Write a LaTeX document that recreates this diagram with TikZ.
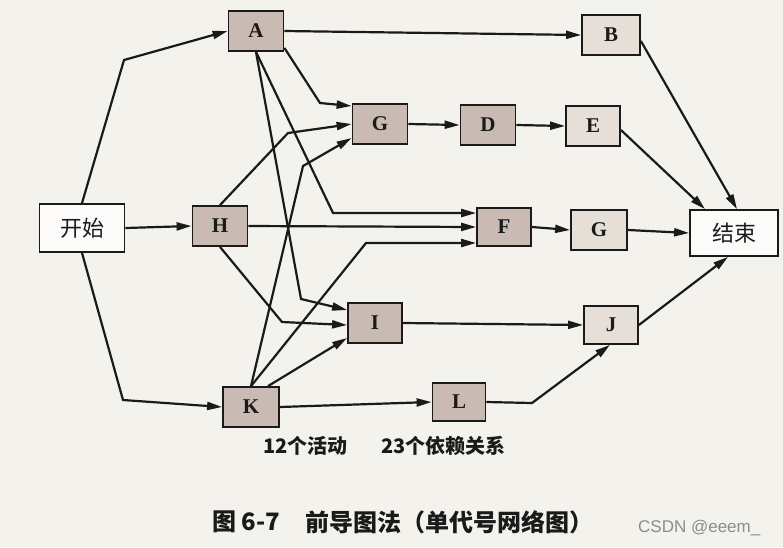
\documentclass[tikz,border=0pt]{standalone}
\usepackage{fontspec}
\setmainfont{Liberation Serif}
\newfontfamily\cjk{Noto Sans CJK SC}
\newfontfamily\wmfont{Liberation Sans}
\usetikzlibrary{arrows.meta}
\definecolor{bg}{HTML}{F4F2EC}
\definecolor{darkbox}{HTML}{C9BBB3}
\definecolor{lightbox}{HTML}{E6DFD8}
\definecolor{ink}{HTML}{1A1A1A}
\begin{document}
\begin{tikzpicture}[x=1pt,y=-1pt,
  box/.style={draw=ink, line width=1.8pt, fill=darkbox, minimum width=55pt,
    minimum height=40pt, inner sep=0pt, text=ink, font=\bfseries\fontsize{21}{21}\selectfont},
  lbox/.style={box, fill=lightbox},
  tbox/.style={draw=ink, line width=1.8pt, fill=white!70!bg, inner sep=0pt,
    text=ink, font=\cjk\fontsize{22}{22}\selectfont},
  arr/.style={draw=ink, line width=2.2pt, -{Triangle[length=15pt,width=8pt]}},
  note/.style={text=ink, inner sep=0pt, font=\cjk\bfseries\fontsize{20}{20}\selectfont},
  captext/.style={text=ink, inner sep=0pt, font=\cjk\bfseries\fontsize{24}{24}\selectfont}]
\useasboundingbox (0,0) rectangle (783,547);
\fill[bg] (0,0) rectangle (783,547);

% nodes
\node[tbox, minimum width=85pt, minimum height=48pt] (S) at (82,228) {开始};
\node[box] (A) at (256,31) {A};
\node[lbox, minimum width=58pt] (B) at (611,35) {B};
\node[box] (G1) at (380,124) {G};
\node[box] (D) at (488,125) {D};
\node[lbox, minimum width=54pt] (E) at (593,126) {E};
\node[box] (H) at (220,226) {H};
\node[box, minimum width=54pt, minimum height=38pt] (F) at (504,227) {F};
\node[lbox, minimum width=56pt] (G2) at (599,230) {G};
\node[tbox, minimum width=88pt, minimum height=46pt] (End) at (734,233) {结束};
\node[box, minimum width=54pt] (I) at (375,323) {I};
\node[lbox, minimum width=54pt, minimum height=38pt] (J) at (611,325) {J};
\node[box, minimum width=56pt] (K) at (251,407) {K};
\node[box, minimum width=53pt, minimum height=38pt] (L) at (459,402) {L};

% connectors from start
\draw[arr] (S.north) -- (124,60) -- (A.west);
\draw[arr] (S.east) -- (H.west);
\draw[arr] (S.south) -- (123,400) -- (K.west);

% from A
\draw[arr] (A.east) -- (B.west);
\draw[arr] ([yshift=4pt]A.south east) -- (320,103) -- ([yshift=18pt]G1.west);
\draw[arr] (A.south) -- (333,213) -- ([yshift=14pt]F.west);
\draw[arr] (A.south) -- (301,299) -- ([yshift=13pt]I.west);

% from H
\draw[arr] (H.north) -- (288,133) -- (G1.west);
\draw[arr] (H.east) -- (F.west);
\draw[arr] (H.south) -- (282,322) -- ([yshift=-2pt]I.west);

% from K
\draw[arr] (K.north) -- (303,166) -- ([yshift=-14pt]G1.west);
\draw[arr] (K.north) -- (366,243) -- ([yshift=-16pt]F.west);
\draw[arr] ([xshift=17pt]K.north) -- ([yshift=-15pt]I.west);
\draw[arr] (K.east) -- (L.west);

% chains
\draw[arr] (G1.east) -- (D.west);
\draw[arr] (D.east) -- (E.west);
\draw[arr] ([yshift=-4pt]E.east) -- ([xshift=-29pt]End.north);
\draw[arr] ([yshift=-6pt]B.east) -- ([xshift=3pt]End.north);
\draw[arr] (F.east) -- (G2.west);
\draw[arr] (G2.east) -- (End.west);
\draw[arr] (I.east) -- (J.west);
\draw[arr] (J.east) -- ([xshift=-6pt]End.south);
\draw[arr] (L.east) -- (532,403) -- ([xshift=-1pt]J.south);

% texts
\node[note, anchor=west] (n1) at (263,446) {12个活动};
\node[note, anchor=west] (n2) at (381,446) {23个依赖关系};
\node[captext, anchor=west] (c1) at (212,522) {图 6-7};
\node[captext, anchor=west] (c2) at (305,522) {前导图法（单代号网络图）};
\node[text=black!45, inner sep=0pt, anchor=west, font=\wmfont\fontsize{17}{17}\selectfont] (wm) at (638,528) {CSDN @eeem\_};
\end{tikzpicture}
\end{document}
